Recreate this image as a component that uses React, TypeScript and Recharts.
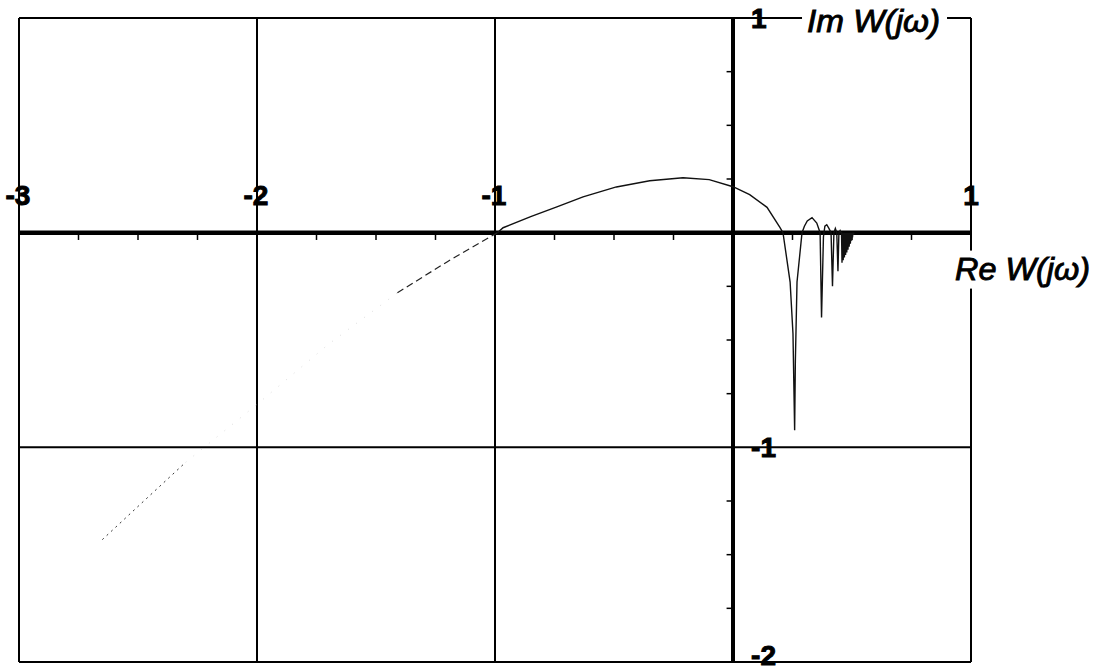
import React from 'react';
import { ComposedChart, XAxis, YAxis, CartesianGrid, Line, ReferenceLine, ReferenceDot } from 'recharts';

// Grid / tick values
const gridX = [-3, -2, -1, 0, 1];
const gridY = [-2, -1, 0, 1];
const xTickValues = [-3, -2, -1, 1];
const xTickLabels = ['-3', '-2', '-1', '1'];
const yTickValues = [1, -1, -2];
const yTickLabels = ['1', '-1', '-2'];
const minorX = [-2.75, -2.5, -2.25, -1.75, -1.5, -1.25, -0.75, -0.5, -0.25, 0.25, 0.5, 0.75];
const minorY = [0.75, 0.5, 0.25, -0.25, -0.5, -0.75, -1.25, -1.5, -1.75];

// Low-frequency branch of the Nyquist curve (faint, dotted in the scan)
const lowStartRe = [-2.65, -2.49, -2.3];
const lowStartIm = [-1.43, -1.265, -1.07];
const lowMidRe = [-2.3, -2.0, -1.7, -1.41];
const lowMidIm = [-1.07, -0.8, -0.52, -0.28];
const lowEndRe = [-1.41, -1.2, -0.99];
const lowEndIm = [-0.28, -0.135, 0.0];

// Main branch of the Nyquist curve
const mainRe = [
  -0.99, -0.966, -0.85, -0.74, -0.63, -0.49, -0.35, -0.21, -0.1, 0.0, 0.07, 0.143, 0.197, 0.21,
  0.24, 0.252, 0.259, 0.262, 0.269, 0.29, 0.3, 0.312, 0.332, 0.352, 0.366,
  0.372, 0.38, 0.386, 0.394, 0.403, 0.412, 0.418, 0.424, 0.43, 0.436, 0.441, 0.445, 0.45, 0.454,
  0.456, 0.458, 0.461, 0.463, 0.466, 0.468, 0.471, 0.473, 0.476, 0.478, 0.481, 0.483, 0.486,
  0.488, 0.491, 0.493, 0.496, 0.498, 0.5, 0.502, 0.504, 0.506, 0.508,
];
const mainIm = [
  0.0, 0.023, 0.075, 0.12, 0.167, 0.213, 0.242, 0.256, 0.247, 0.214, 0.177, 0.118, 0.025, 0.0,
  -0.23, -0.47, -0.92, -0.6, -0.23, 0.0, 0.03, 0.055, 0.07, 0.045, 0.0,
  -0.395, -0.02, 0.03, 0.037, 0.02, 0.0, -0.25, 0.0, 0.02, 0.0, -0.18, 0.0, 0.01, 0.0,
  0.0, -0.14, 0.0, -0.128, 0.0, -0.116, 0.0, -0.104, 0.0, -0.092, 0.0, -0.08, 0.0,
  -0.066, 0.0, -0.052, 0.0, -0.038, 0.0, -0.022, 0.0, -0.01, 0.0,
];

const zipPts = (re: number[], im: number[]) => re.map((r, i) => ({ re: r, im: im[i] }));
const lowStartData = zipPts(lowStartRe, lowStartIm);
const lowMidData = zipPts(lowMidRe, lowMidIm);
const lowEndData = zipPts(lowEndRe, lowEndIm);
const mainData = zipPts(mainRe, mainIm);

const FONT = '"Liberation Sans", Arial, sans-serif';

// label placement constants (in data units)
const X_LABEL_Y = 0.172;
const Y_LABEL_X = 0.076;
const Y_LABEL_NUDGE = -0.03;
const IM_TITLE = { x: 0.311, y: 0.982 };
const RE_TITLE = { x: 0.933, y: -0.172 };

const tickLabel = (text: string, anchor: 'middle' | 'start', dx: number) => (props: any) => {
  const vb = props.viewBox || {};
  return (
    <text
      x={vb.x + dx}
      y={vb.y}
      textAnchor={anchor}
      dominantBaseline="central"
      fontFamily={FONT}
      fontWeight="bold"
      fontSize={28}
      fill="#000"
      stroke="#000"
      strokeWidth={1}
    >
      {text}
    </text>
  );
};

const titleLabel = (text: string, length: number) => (props: any) => {
  const vb = props.viewBox || {};
  return (
    <g>
      <rect x={vb.x - 5} y={vb.y - 19} width={length + 12} height={38} fill="#fff" />
      <text
        x={vb.x}
        y={vb.y}
        dominantBaseline="central"
        fontFamily={FONT}
        fontStyle="italic"
        fontSize={31}
        fill="#000"
        stroke="#000"
        strokeWidth={0.9}
        textLength={length}
        lengthAdjust="spacingAndGlyphs"
      >
        {text}
      </text>
    </g>
  );
};

export default function App() {
  return (
    <div style={{ position: 'absolute', left: 0, top: 0, width: 1100, height: 671, background: '#fff' }}>
      <ComposedChart width={1100} height={671} margin={{ top: 18, right: 129, bottom: 9, left: 19 }}>
        <XAxis type="number" dataKey="re" domain={[-3, 1]} hide allowDataOverflow />
        <YAxis type="number" dataKey="im" domain={[-2, 1]} hide allowDataOverflow />
        <CartesianGrid
          horizontalValues={gridY}
          verticalValues={gridX}
          stroke="#000"
          strokeWidth={2}
          strokeDasharray=""
        />
        <ReferenceLine x={0} stroke="#000" strokeWidth={4} />
        <ReferenceLine y={0} stroke="#000" strokeWidth={4.5} />
        {minorX.map((v) => (
          <ReferenceLine
            key={'mx' + v}
            segment={[{ x: v, y: 0 }, { x: v, y: -0.034 }]}
            stroke="#000"
            strokeWidth={1.5}
          />
        ))}
        {minorY.map((v) => (
          <ReferenceLine
            key={'my' + v}
            segment={[{ x: 0, y: v }, { x: -0.027, y: v }]}
            stroke="#000"
            strokeWidth={1.5}
          />
        ))}
        <Line
          data={lowStartData}
          dataKey="im"
          type="linear"
          dot={false}
          stroke="#333"
          strokeWidth={1}
          strokeDasharray="2 4"
          isAnimationActive={false}
        />
        <Line
          data={lowMidData}
          dataKey="im"
          type="linear"
          dot={false}
          stroke="#ddd"
          strokeWidth={1}
          strokeDasharray="1 9"
          isAnimationActive={false}
        />
        <Line
          data={lowEndData}
          dataKey="im"
          type="linear"
          dot={false}
          stroke="#222"
          strokeWidth={1.2}
          strokeDasharray="7 4"
          isAnimationActive={false}
        />
        <Line
          data={mainData}
          dataKey="im"
          type="linear"
          dot={false}
          stroke="#111"
          strokeWidth={1.4}
          isAnimationActive={false}
        />
        {xTickValues.map((v, i) => (
          <ReferenceDot
            key={'xl' + v}
            x={v}
            y={X_LABEL_Y}
            r={0}
            fill="none"
            stroke="none"
            label={tickLabel(xTickLabels[i], 'middle', v === 1 ? 0 : -1)}
          />
        ))}
        {yTickValues.map((v, i) => (
          <ReferenceDot
            key={'yl' + v}
            x={Y_LABEL_X}
            y={v === -2 ? v - Y_LABEL_NUDGE : v}
            r={0}
            fill="none"
            stroke="none"
            label={tickLabel(yTickLabels[i], 'start', 0)}
          />
        ))}
        <ReferenceDot
          x={IM_TITLE.x}
          y={IM_TITLE.y}
          r={0}
          fill="none"
          stroke="none"
          label={titleLabel('Im W(jω)', 133)}
        />
        <ReferenceDot
          x={RE_TITLE.x}
          y={RE_TITLE.y}
          r={0}
          fill="none"
          stroke="none"
          label={titleLabel('Re W(jω)', 135)}
        />
      </ComposedChart>
    </div>
  );
}
